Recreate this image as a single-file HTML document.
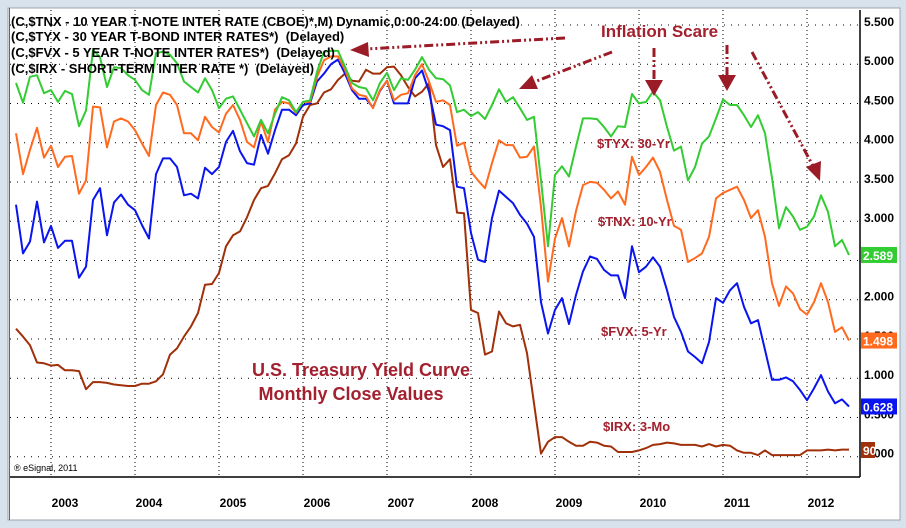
<!DOCTYPE html>
<html><head><meta charset="utf-8"><style>
body{margin:0;background:#d8e2ec;}
svg{display:block;font-family:"Liberation Sans",Arial,sans-serif;}
</style></head><body>
<svg width="906" height="528" viewBox="0 0 906 528" xmlns="http://www.w3.org/2000/svg">
<rect x="0" y="0" width="906" height="528" fill="#d8e2ec"/>
<rect x="8" y="8" width="892" height="512" fill="#ffffff" stroke="#9aa4ae"/>
<g id="grid"></g>
<g id="series"></g>
<line x1="10" y1="477" x2="860" y2="477" stroke="#000" stroke-width="1.5"/>
<line x1="860" y1="10" x2="860" y2="477" stroke="#000" stroke-width="1.5"/>
<line x1="9.5" y1="8" x2="9.5" y2="520" stroke="#666" stroke-width="1"/>
<g id="yticks"></g>
<g id="xticks"></g>
<g font-size="13" font-weight="bold" fill="#000" style="white-space:pre">
<text x="11" y="26">(C,$TNX - 10 YEAR T-NOTE INTER RATE (CBOE)*,M) Dynamic,0:00-24:00 (Delayed)</text>
<text x="11" y="41" xml:space="preserve">(C,$TYX - 30 YEAR T-BOND INTER RATES*)  (Delayed)</text>
<text x="11" y="57" xml:space="preserve">(C,$FVX - 5 YEAR T-NOTE INTER RATES*)  (Delayed)</text>
<text x="11" y="73" xml:space="preserve">(C,$IRX - SHORT-TERM INTER RATE *)  (Delayed)</text>
</g>
<text x="14" y="471" font-size="9" fill="#000">® eSignal, 2011</text>
<g fill="#a3202e" font-weight="bold">
<text x="601" y="37" font-size="17">Inflation Scare</text>
<text x="361" y="376" font-size="18" text-anchor="middle">U.S. Treasury Yield Curve</text>
<text x="351" y="400" font-size="18" text-anchor="middle">Monthly Close Values</text>
<text x="597" y="148" font-size="13">$TYX: 30-Yr</text>
<text x="598" y="226" font-size="13">$TNX: 10-Yr</text>
<text x="601" y="336" font-size="13">$FVX: 5-Yr</text>
<text x="603" y="431" font-size="13">$IRX: 3-Mo</text>
</g>
<g stroke="#9b1c27" stroke-width="3" stroke-dasharray="9,3,2,3,2,3" fill="none">
<line x1="565" y1="38" x2="366" y2="49"/>
<line x1="612" y1="52" x2="534" y2="82"/>
<line x1="654" y1="48" x2="654" y2="82"/>
<line x1="727" y1="45" x2="727" y2="77"/>
<line x1="752" y1="52" x2="813" y2="166"/>
</g>
<g fill="#9b1c27">
<polygon points="350,50 368,42 369,57"/>
<polygon points="519,89 532,75 538,89"/>
<polygon points="654,96 645,80 663,80"/>
<polygon points="727,91 718,75 736,75"/>
<polygon points="820,181 806,167 821,161"/>
</g>
<g id="tags" font-size="12" font-weight="bold" fill="#fff"></g>
</svg>
<script>
const months = [];
for (let m = -5; m <= 114; m++) months.push(m);
const tyx = [4.76,4.51,4.84,4.86,4.63,4.67,4.52,4.66,4.62,4.21,4.41,5.18,5.09,4.71,4.96,4.95,4.86,4.80,4.67,4.61,5.14,5.16,5.12,5.01,4.78,4.71,4.64,4.82,4.67,4.44,4.56,
4.59,4.42,4.25,4.08,4.29,4.12,4.37,4.58,4.54,4.39,4.52,4.54,4.90,5.16,5.17,5.17,4.97,4.76,4.71,4.69,4.54,4.76,4.89,4.67,4.82,4.80,4.93,5.09,4.93,4.82,
4.81,4.73,4.39,4.42,4.34,4.39,4.30,4.48,4.68,4.52,4.58,4.44,4.29,4.33,3.52,2.68,3.59,3.70,3.57,3.95,4.31,4.31,4.30,4.20,4.08,4.21,4.20,4.62,4.50,4.52,
4.65,4.54,4.20,3.90,3.95,3.52,3.69,3.99,4.08,4.31,4.55,4.48,4.48,4.35,4.20,4.35,4.12,3.55,2.91,3.18,3.06,2.89,2.93,3.06,3.33,3.12,2.68,2.76,2.57];
const tnx = [4.12,3.60,3.91,4.19,3.81,3.96,3.69,3.82,3.83,3.35,3.52,4.46,4.45,3.94,4.27,4.31,4.27,4.16,3.99,3.83,4.48,4.64,4.61,4.48,4.12,4.12,4.03,4.33,4.20,4.13,4.37,
4.48,4.29,4.01,3.94,4.27,4.01,4.42,4.52,4.50,4.38,4.52,4.52,4.84,5.05,5.10,5.10,4.93,4.69,4.61,4.59,4.44,4.67,4.79,4.54,4.61,4.63,4.86,5.00,4.78,4.52,
4.54,4.48,3.96,4.00,3.63,3.52,3.42,3.74,4.03,3.97,3.97,3.81,3.82,3.95,3.18,2.23,2.78,3.04,2.68,3.13,3.46,3.50,3.49,3.40,3.29,3.38,3.21,3.82,3.59,3.69,
3.81,3.63,3.27,2.94,2.89,2.48,2.53,2.59,2.80,3.29,3.36,3.40,3.44,3.27,3.04,3.14,2.80,2.21,1.92,2.17,2.08,1.88,1.81,1.97,2.21,1.97,1.59,1.65,1.48];
const fvx = [3.21,2.59,2.74,3.25,2.73,2.94,2.66,2.75,2.75,2.28,2.42,3.27,3.42,2.82,3.24,3.34,3.21,3.14,2.95,2.78,3.60,3.80,3.80,3.69,3.33,3.35,3.29,3.68,3.60,3.69,4.01,
4.15,3.89,3.74,3.72,4.10,3.86,4.16,4.42,4.42,4.35,4.48,4.50,4.78,4.88,5.00,5.06,4.88,4.67,4.56,4.56,4.45,4.66,4.79,4.50,4.50,4.50,4.82,4.92,4.65,4.23,
4.21,4.16,3.44,3.42,2.85,2.51,2.48,3.04,3.39,3.31,3.23,3.08,2.97,2.80,1.97,1.57,1.87,2.02,1.69,2.06,2.36,2.55,2.52,2.38,2.31,2.31,2.02,2.68,2.35,2.42,
2.54,2.42,2.12,1.78,1.59,1.34,1.27,1.19,1.46,2.02,1.96,2.12,2.21,1.91,1.70,1.74,1.36,0.98,0.98,1.01,0.96,0.85,0.72,0.87,1.04,0.83,0.68,0.73,0.64];
const irx = [1.63,1.53,1.42,1.20,1.19,1.16,1.17,1.10,1.10,1.09,0.86,0.95,0.95,0.94,0.92,0.91,0.90,0.90,0.93,0.93,0.96,1.05,1.30,1.38,1.53,1.66,1.83,2.19,2.20,2.34,2.68,
2.82,2.87,3.05,3.27,3.42,3.45,3.61,3.79,3.84,3.99,4.33,4.48,4.50,4.64,4.68,4.80,4.88,4.79,4.78,4.93,4.88,4.88,4.96,4.97,4.86,4.71,4.59,4.65,4.76,3.97,
3.69,3.79,3.11,3.10,1.87,1.83,1.30,1.34,1.85,1.70,1.66,1.68,1.32,0.68,0.04,0.19,0.25,0.25,0.19,0.14,0.14,0.19,0.18,0.14,0.13,0.06,0.06,0.06,0.08,0.11,
0.15,0.16,0.18,0.17,0.15,0.15,0.15,0.13,0.16,0.13,0.15,0.14,0.08,0.05,0.05,0.02,0.08,0.02,0.02,0.02,0.02,0.02,0.08,0.08,0.08,0.09,0.08,0.09,0.09];
const yTicks = [0,0.5,1,1.5,2,2.5,3,3.5,4,4.5,5,5.5];
const yTickLabels = ["0.000","0.500","1.000","1.500","2.000","2.500","3.000","3.500","4.000","4.500","5.000","5.500"];
const years = [2003,2004,2005,2006,2007,2008,2009,2010,2011,2012];
const lastLabels = ["2.589","1.498","0.628","90"];

const NS = "http://www.w3.org/2000/svg";
function xScale(m){ return 51 + 7*m; }
function yScale(v){ return 456.7 - 78.5*v; }
function mk(tag, attrs, parent){ const e=document.createElementNS(NS,tag); for(const k in attrs) e.setAttribute(k,attrs[k]); parent.appendChild(e); return e; }

const grid = document.getElementById('grid');
yTicks.forEach(v=>{
  const l = mk('line',{x1:10,x2:860,y1:yScale(v),y2:yScale(v),stroke:'#000','stroke-width':1,'stroke-dasharray':'1,6'},grid);
  
  
});
years.forEach((y,i)=>{
  const x = xScale(12*i);
  const l = mk('line',{x1:x,x2:x,y1:10,y2:477,stroke:'#000','stroke-width':1,'stroke-dasharray':'1,3'},grid);
  
  
});
const yt = document.getElementById('yticks');
yTicks.forEach((v,i)=>{
  const t = mk('text',{x:864,y:yScale(v)+1,'font-size':12,'font-weight':'bold',fill:'#000'},yt);
  t.textContent = yTickLabels[i];
  
  
});
const xt = document.getElementById('xticks');
years.forEach((y,i)=>{
  const t = mk('text',{x:xScale(12*i)+14,y:507,'font-size':12,'font-weight':'bold',fill:'#000','text-anchor':'middle'},xt);
  t.textContent = y;
  
  
});
const sg = document.getElementById('series');
const seriesList = [[irx,'#a0300a','irx-line'],[fvx,'#0a14ee','fvx-line'],[tnx,'#ff6a1e','tnx-line'],[tyx,'#33cc33','tyx-line']];
seriesList.forEach(([arr,col,name])=>{
  const d = arr.map((v,i)=>(i?'L':'M')+xScale(months[i]).toFixed(1)+','+yScale(v).toFixed(1)).join(' ');
  const p = mk('path',{d:d,fill:'none',stroke:col,'stroke-width':2,'stroke-linejoin':'round'},sg);
  
  
});
const tags = document.getElementById('tags');
const tagDefs = [[tyx,'#33cc33',36],[tnx,'#ff6a1e',36],[fvx,'#0a14ee',36],[irx,'#a0300a',14]];
tagDefs.forEach(([arr,col,w],i)=>{
  const cy = i===3 ? 450 : yScale(arr[arr.length-1]);
  const r = mk('rect',{x:861,y:cy-8,width:w,height:16,fill:col},tags);
  
  
  const t = mk('text',{x:863,y:cy+5},tags);
  t.textContent = lastLabels[i];
  
  
});
</script>
</body></html>
